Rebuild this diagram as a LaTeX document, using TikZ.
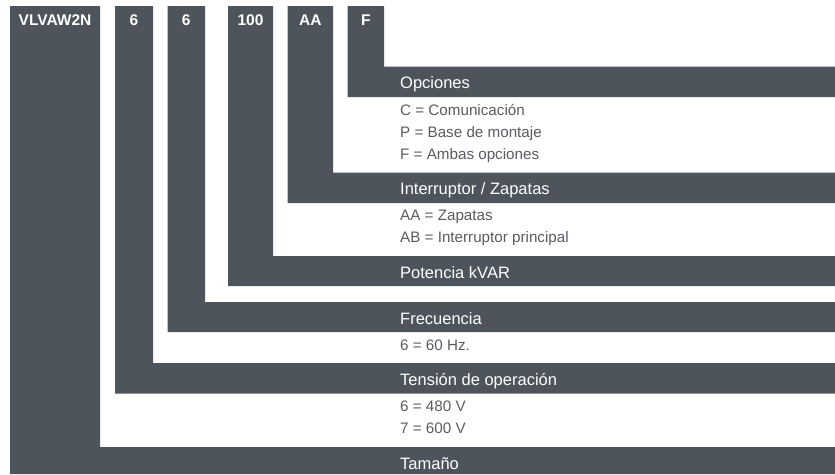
\documentclass[tikz,border=0pt]{standalone}
\usepackage{fontspec}
\setmainfont{Liberation Sans}
\definecolor{gris}{RGB}{78,84,91}
\definecolor{texte}{RGB}{88,92,98}

\begin{document}
\begin{tikzpicture}[x=1pt, y=-1pt,
    code/.style={anchor=base, inner sep=0pt, white, font=\bfseries\fontsize{15.5}{18}\selectfont},
    titre/.style={anchor=base west, inner sep=0pt, white, font=\fontsize{16.5}{19}\selectfont},
    option/.style={anchor=base west, inner sep=0pt, text=texte, font=\fontsize{15.2}{18}\selectfont}]
    \useasboundingbox (0,0) rectangle (835,474);

    % Tamaño
    \fill[gris] (10,6) -| (100,447) -| (835,474) -| cycle;
    \node[code] (tam) at (55,25.5) {VLVAW2N};
    \node[titre] (tamt) at (400,469) {Tamaño};

    % Tensión de operación
    \fill[gris] (115,6) -| (153,363) -| (835,393.5) -| cycle;
    \node[code] (ten) at (134,25.5) {6};
    \node[titre] (tent) at (400,385) {Tensión de operación};
    \node[option] (ten1) at (400,411) {6 = 480 V};
    \node[option] (ten2) at (400,433) {7 = 600 V};

    % Frecuencia
    \fill[gris] (167.5,6) -| (205,302) -| (835,332) -| cycle;
    \node[code] (fre) at (186.25,25.5) {6};
    \node[titre] (fret) at (400,324) {Frecuencia};
    \node[option] (fre1) at (400,350) {6 = 60 Hz.};

    % Potencia
    \fill[gris] (228,6) -| (273,256) -| (835,286) -| cycle;
    \node[code] (pot) at (250.5,25.5) {100};
    \node[titre] (pott) at (400,278) {Potencia kVAR};

    % Interruptor / Zapatas
    \fill[gris] (287.5,6) -| (333,172.5) -| (835,203) -| cycle;
    \node[code] (int) at (310.25,25.5) {AA};
    \node[titre] (intt) at (400,194.5) {Interruptor / Zapatas};
    \node[option] (int1) at (400,220) {AA = Zapatas};
    \node[option] (int2) at (400,242) {AB = Interruptor principal};

    % Opciones
    \fill[gris] (347.5,6) -| (384,66.5) -| (835,97) -| cycle;
    \node[code] (opc) at (365.75,25.5) {F};
    \node[titre] (opct) at (400,88.5) {Opciones};
    \node[option] (opc1) at (400,115) {C = Comunicación};
    \node[option] (opc2) at (400,137) {P = Base de montaje};
    \node[option] (opc3) at (400,159) {F = Ambas opciones};
\end{tikzpicture}
\end{document}
